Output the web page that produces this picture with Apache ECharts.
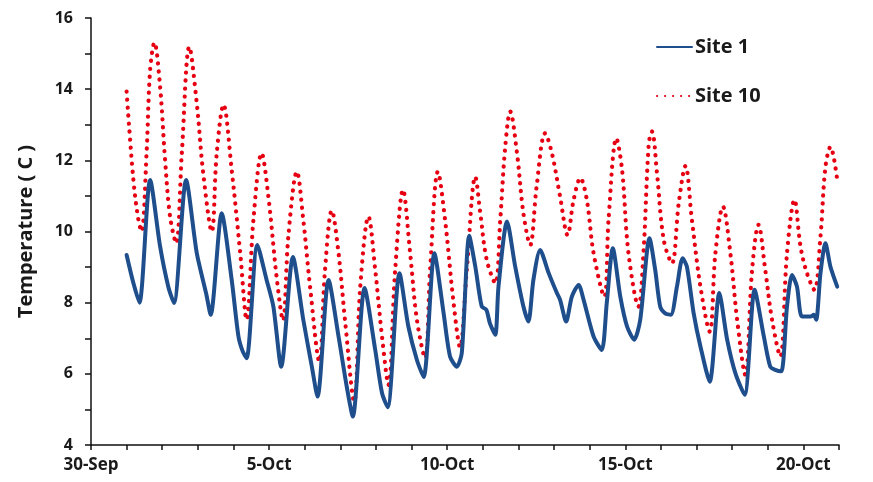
<!DOCTYPE html>
<html>
<head>
<meta charset="utf-8">
<script src="https://cdn.jsdelivr.net/npm/echarts@6/dist/echarts.min.js"></script>
<style>
  html, body { margin: 0; padding: 0; background: #ffffff; }
  #chart { width: 873px; height: 482px; }
</style>
</head>
<body>
<div id="chart"></div>
<script>
// x values are days after 30-Sep; y values are water temperature in degrees C
const dayTickLabels = ['30-Sep', '5-Oct', '10-Oct', '15-Oct', '20-Oct'];

const site1 = [
  [1.00, 9.34], [1.19, 8.55], [1.36, 8.00], [1.66, 11.45], [1.94, 9.58], [2.17, 8.45],
  [2.33, 7.99], [2.67, 11.45], [2.97, 9.39], [3.23, 8.27], [3.36, 7.66], [3.67, 10.51],
  [3.95, 8.64], [4.14, 7.05], [4.26, 6.63], [4.37, 6.44], [4.67, 9.62], [4.93, 8.64],
  [5.12, 7.89], [5.34, 6.20], [5.67, 9.28], [5.96, 7.52], [6.20, 6.20], [6.36, 5.36],
  [6.67, 8.64], [6.95, 7.05], [7.18, 5.64], [7.35, 4.80], [7.68, 8.41], [7.98, 6.67],
  [8.17, 5.46], [8.33, 5.06], [8.66, 8.83], [8.91, 7.33], [9.15, 6.39], [9.34, 5.91],
  [9.64, 9.39], [9.90, 7.70], [10.08, 6.49], [10.27, 6.20], [10.41, 6.59], [10.62, 9.88],
  [10.79, 9.01], [10.97, 7.89], [11.10, 7.80], [11.20, 7.42], [11.35, 7.10], [11.44, 8.45],
  [11.68, 10.28], [11.91, 9.01], [12.14, 7.89], [12.28, 7.47], [12.42, 8.64], [12.61, 9.48],
  [12.85, 8.83], [13.08, 8.27], [13.17, 8.08], [13.34, 7.47], [13.50, 8.17], [13.69, 8.50],
  [13.83, 8.08], [14.11, 7.05], [14.34, 6.67], [14.48, 7.99], [14.65, 9.53], [14.86, 8.17],
  [15.05, 7.33], [15.25, 6.96], [15.42, 7.52], [15.68, 9.81], [15.84, 8.92], [15.98, 7.89],
  [16.12, 7.70], [16.28, 7.66], [16.45, 8.45], [16.61, 9.25], [16.73, 9.01], [16.92, 7.70],
  [17.11, 6.77], [17.37, 5.78], [17.64, 8.27], [17.86, 6.96], [18.09, 6.02], [18.35, 5.41],
  [18.63, 8.36], [18.89, 7.05], [19.07, 6.20], [19.21, 6.11], [19.38, 6.07], [19.54, 7.89],
  [19.68, 8.78], [19.82, 8.45], [19.96, 7.61], [20.20, 7.61], [20.29, 7.66], [20.36, 7.52],
  [20.48, 8.83], [20.62, 9.67], [20.76, 9.01], [20.95, 8.45]
];

const site10 = [
  [1.00, 13.93], [1.19, 11.45], [1.33, 10.33], [1.42, 10.00], [1.56, 12.20], [1.66, 14.54],
  [1.78, 15.31], [1.94, 14.07], [2.08, 12.01], [2.22, 10.42], [2.39, 9.67], [2.55, 12.20],
  [2.76, 15.19], [2.97, 13.60], [3.15, 11.64], [3.39, 10.00], [3.53, 12.20], [3.72, 13.56],
  [3.95, 11.73], [4.19, 9.39], [4.37, 7.52], [4.56, 10.33], [4.79, 12.20], [4.98, 10.98],
  [5.22, 8.64], [5.39, 7.50], [5.54, 9.86], [5.78, 11.68], [5.96, 10.33], [6.15, 8.45],
  [6.41, 6.35], [6.57, 8.92], [6.76, 10.59], [6.95, 9.39], [7.13, 7.52], [7.39, 5.22],
  [7.56, 8.45], [7.79, 10.42], [7.98, 8.92], [8.17, 7.05], [8.35, 5.69], [8.54, 8.92],
  [8.76, 11.17], [8.96, 9.39], [9.15, 7.52], [9.38, 6.44], [9.52, 8.92], [9.74, 11.68],
  [9.94, 10.33], [10.18, 7.99], [10.36, 6.75], [10.55, 8.92], [10.79, 11.54], [10.93, 10.51],
  [11.11, 9.20], [11.35, 8.55], [11.49, 10.33], [11.63, 12.38], [11.77, 13.37], [11.96, 12.20],
  [12.14, 10.51], [12.33, 9.62], [12.51, 11.26], [12.75, 12.76], [12.94, 12.20], [13.17, 10.98],
  [13.38, 9.90], [13.55, 10.89], [13.74, 11.50], [13.92, 10.89], [14.11, 9.39], [14.41, 8.17],
  [14.53, 10.33], [14.75, 12.62], [14.91, 11.73], [15.09, 9.39], [15.37, 7.89], [15.51, 9.39],
  [15.66, 12.48], [15.75, 12.81], [15.89, 11.64], [16.08, 9.76], [16.31, 9.11], [16.50, 10.79],
  [16.69, 11.84], [16.87, 10.33], [17.11, 8.45], [17.37, 7.19], [17.53, 9.39], [17.74, 10.70],
  [17.95, 9.39], [18.14, 7.52], [18.37, 5.97], [18.56, 8.92], [18.74, 10.19], [18.93, 8.92],
  [19.12, 7.52], [19.35, 6.49], [19.54, 9.39], [19.75, 10.89], [19.92, 9.58], [20.10, 8.83],
  [20.31, 8.36], [20.48, 9.86], [20.62, 11.82], [20.76, 12.38], [20.95, 11.45]
];

const FONT = '"Open Sans", "Noto Sans", sans-serif';
const INK = '#1a1a1a';
const BLUE = '#1f4e8c';
const RED = '#e60012';

const chart = echarts.init(document.getElementById('chart'), null, { renderer: 'canvas' });

chart.setOption({
  backgroundColor: '#ffffff',
  animation: false,
  grid: { left: 91, right: 34, top: 18, bottom: 37, containLabel: false },
  legend: {
    orient: 'vertical',
    left: 656,
    top: 37,
    padding: 0,
    itemWidth: 35,
    itemHeight: 12,
    itemGap: 29,
    itemStyle: { opacity: 0 },
    textStyle: {
      fontFamily: FONT, fontWeight: 'bold', fontSize: 20, lineHeight: 20,
      color: INK, padding: [0, 0, 0, -2]
    },
    data: ['Site 1', 'Site 10']
  },
  xAxis: {
    type: 'value',
    min: 0,
    max: 21,
    interval: 5,
    axisLine: { show: true, onZero: false, lineStyle: { color: '#111', width: 1.5 } },
    axisTick: { show: true, inside: false, length: 5, lineStyle: { color: '#111', width: 1.5 } },
    minorTick: { show: true, splitNumber: 5, length: 5, lineStyle: { color: '#111', width: 1.5 } },
    splitLine: { show: false },
    axisLabel: {
      margin: 12,
      fontFamily: FONT, fontWeight: 'bold', fontSize: 17, color: INK,
      formatter: v => (v % 5 === 0 && v / 5 < dayTickLabels.length) ? dayTickLabels[v / 5] : ''
    }
  },
  yAxis: {
    type: 'value',
    min: 4,
    max: 16,
    interval: 2,
    name: 'Temperature ( C )',
    nameLocation: 'middle',
    nameGap: 55,
    nameTextStyle: { fontFamily: FONT, fontWeight: 'bold', fontSize: 20, color: INK },
    axisLine: { show: true, lineStyle: { color: '#111', width: 1.5 } },
    axisTick: { show: true, inside: false, length: 6, lineStyle: { color: '#111', width: 1.5 } },
    minorTick: { show: true, splitNumber: 2, length: 6, lineStyle: { color: '#111', width: 1.5 } },
    splitLine: { show: false },
    axisLabel: { margin: 18, fontFamily: FONT, fontWeight: 'bold', fontSize: 16, color: INK }
  },
  series: [
    {
      name: 'Site 1',
      type: 'line',
      data: site1,
      symbol: 'none',
      smooth: 0.25,
      lineStyle: { color: BLUE, width: 4, cap: 'round', join: 'round' },
      itemStyle: { color: BLUE },
      z: 3
    },
    {
      name: 'Site 10',
      type: 'line',
      data: site10,
      symbol: 'none',
      smooth: 0.35,
      lineStyle: { color: RED, width: 4.2, type: [0.2, 7.8], cap: 'round' },
      itemStyle: { color: RED },
      z: 2
    }
  ]
});
</script>
</body>
</html>
